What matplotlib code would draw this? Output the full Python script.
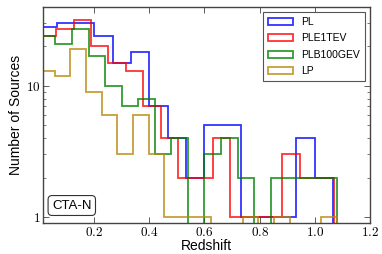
import matplotlib
matplotlib.use("Agg")
import matplotlib.pyplot as plt
from matplotlib.ticker import NullFormatter, LogLocator

plt.rcParams['font.family'] = ['Liberation Sans', 'DejaVu Sans']
plt.rcParams['mathtext.fontset'] = 'cm'

# bin edges (redshift) and counts per source class
pl_edges = [0.0, 0.067, 0.133, 0.2, 0.267, 0.333, 0.4, 0.467, 0.533, 0.6,
            0.667, 0.733, 0.8, 0.867, 0.933, 1.0, 1.067]
pl_counts = [28, 30, 30, 24, 15, 18, 7, 4, 2, 5, 5, 1, 1, 1, 4, 2]

ple_edges = [0.0, 0.063, 0.126, 0.189, 0.252, 0.315, 0.378, 0.441, 0.504,
             0.567, 0.63, 0.693, 0.756, 0.819, 0.882, 0.945, 1.008, 1.071]
ple_counts = [24, 27, 32, 20, 15, 13, 7, 4, 2, 2, 4, 1, 1, 1, 3, 2, 2]

plb_edges = [0.0, 0.06, 0.12, 0.18, 0.24, 0.3, 0.36, 0.42, 0.48, 0.54,
             0.6, 0.66, 0.72, 0.78, 0.84, 0.9, 0.96, 1.02, 1.08]
plb_counts = [24, 21, 27, 17, 10, 7, 8, 3, 4, 0, 3, 4, 2, 0, 2, 2, 2, 2]

lp_edges = [0.0, 0.057, 0.114, 0.17, 0.227, 0.284, 0.341, 0.398, 0.454,
            0.511, 0.568, 0.625, 0.682, 0.738, 0.795, 0.852, 0.909, 0.966,
            1.022, 1.079]
lp_counts = [13, 12, 19, 9, 6, 3, 6, 3, 1, 1, 1, 0, 0, 1, 0, 1, 0, 0, 1]

series = [
    ("PL", pl_edges, pl_counts, "#0000ff"),
    ("PLE1TEV", ple_edges, ple_counts, "#ff0000"),
    ("PLB100GEV", plb_edges, plb_counts, "#008000"),
    ("LP", lp_edges, lp_counts, "#b8860b"),
]

xticks = [0.2, 0.4, 0.6, 0.8, 1.0, 1.2]
xtick_labels = [r"$0.2$", r"$0.4$", r"$0.6$", r"$0.8$", r"$1.0$", r"$1.2$"]

fig = plt.figure(figsize=(3.82, 2.54), dpi=100)
ax = fig.add_axes([0.1126, 0.122, 0.8560, 0.8504])

for name, edges, counts, col in series:
    ax.hist(edges[:-1], bins=edges, weights=counts, histtype="step",
            log=True, color=col, lw=1.3, alpha=0.8, label=name)

ax.set_yscale("log", nonpositive="clip")
ax.set_xlim(0.015, 1.2)
ax.set_ylim(0.9, 40)

ax.set_xticks(xticks)
ax.set_xticklabels(xtick_labels, fontsize=9.5)
ax.yaxis.set_major_locator(LogLocator(base=10, subs=(1.0,)))
ax.yaxis.set_minor_locator(LogLocator(base=10, subs=range(2, 10)))
ax.yaxis.set_minor_formatter(NullFormatter())
ax.set_yticks([1, 10])
ax.set_yticklabels([r"$1$", r"$10$"], fontsize=9.5)

ax.tick_params(which="both", direction="in", top=True, right=True,
               color="#444444", pad=2)
ax.tick_params(which="major", length=4, width=0.6)
ax.tick_params(which="minor", length=2, width=0.5)
for sp in ax.spines.values():
    sp.set_color("#444444")
    sp.set_linewidth(1.0)

ax.set_xlabel("Redshift", fontsize=10, labelpad=0)
ax.set_ylabel("Number of Sources", fontsize=10, labelpad=2)

leg = ax.legend(loc="upper right", fontsize=7.5, fancybox=False,
                edgecolor="#555555", framealpha=1, borderaxespad=0.45,
                handlelength=2.4, handleheight=0.7, labelspacing=0.62,
                borderpad=0.5)
leg.get_frame().set_linewidth(0.8)

ax.text(0.088, 0.081, "CTA-N", transform=ax.transAxes, fontsize=9.5,
        ha="center", va="center",
        bbox=dict(boxstyle="round,pad=0.3", fc="white", ec="#333333", lw=0.8))

fig.savefig("out.png", dpi=100)
